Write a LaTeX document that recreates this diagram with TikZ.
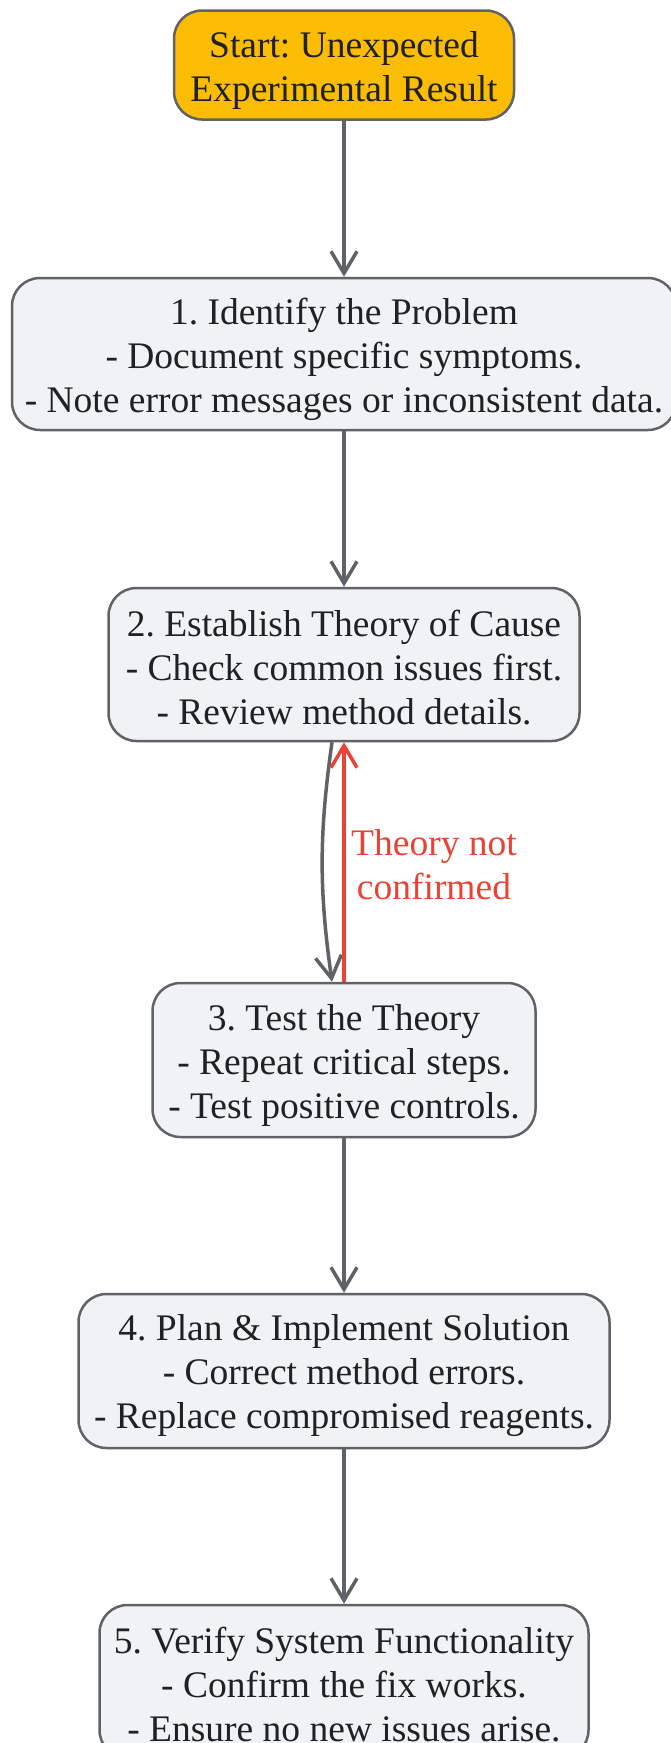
\documentclass[tikz,border=0pt]{standalone}
\usepackage{fontspec}
\setmainfont{Liberation Serif}
\usepackage{xcolor}
\usetikzlibrary{arrows.meta}
\definecolor{boxfill}{HTML}{F1F2F4}
\definecolor{boxline}{HTML}{5F6368}
\definecolor{startfill}{HTML}{FBBC04}
\definecolor{txt}{HTML}{202124}
\definecolor{loopred}{HTML}{EA4335}
\frenchspacing

\begin{document}
\begin{tikzpicture}[x=1pt,y=-1pt,
  box/.style={draw=boxline, line width=2.5pt, fill=boxfill, rounded corners=28pt,
    align=center, text=txt, inner sep=0pt, font=\fontsize{37.5}{44}\selectfont},
  startbox/.style={box, fill=startfill},
  flow/.style={draw=boxline, line width=3.5pt, -{Straight Barb[length=22pt,width=26pt]}},
  back/.style={draw=loopred, line width=3.5pt, -{Straight Barb[length=22pt,width=26pt]}}]
\fill[white] (0,0) rectangle (670,1743);
\useasboundingbox (0,0) rectangle (670,1743);

\node[startbox, minimum width=340pt, minimum height=109pt] (start) at (344,65)
  {\rule{0pt}{36pt}Start: Unexpected\\Experimental Result};
\node[box, minimum width=664pt, minimum height=152pt] (identify) at (344,354)
  {\rule{0pt}{37pt}1. Identify the Problem\\- Document specific symptoms.\\- Note error messages or inconsistent data.};
\node[box, minimum width=471pt, minimum height=153pt] (theory) at (344,664.5)
  {\rule{0pt}{32pt}2. Establish Theory of Cause\\- Check common issues first.\\- Review method details.};
\node[box, minimum width=383pt, minimum height=154pt] (test) at (344,1060)
  {\rule{0pt}{37pt}3. Test the Theory\\- Repeat critical steps.\\- Test positive controls.};
\node[box, minimum width=531pt, minimum height=154pt] (plan) at (344,1371)
  {\rule{0pt}{36pt}4. Plan \& Implement Solution\\- Correct method errors.\\- Replace compromised reagents.};
\node[box, minimum width=489pt, minimum height=153pt] (verify) at (344,1681.5)
  {\rule{0pt}{33pt}5. Verify System Functionality\\- Confirm the fix works.\\- Ensure no new issues arise.};

\draw[flow] (start) -- (identify);
\draw[flow] (identify) -- (theory);
\draw[flow] ([xshift=-12pt]theory.south) to[bend right=8] ([xshift=-12pt]test.north);
\draw[back] (test) -- (theory);
\draw[flow] (test) -- (plan);
\draw[flow] (plan) -- (verify);

\node[anchor=west, align=center, text=loopred, inner sep=0pt,
  font=\fontsize{37.5}{44}\selectfont] (nolabel) at (351,865) {Theory not\\confirmed};
\end{tikzpicture}
\end{document}
